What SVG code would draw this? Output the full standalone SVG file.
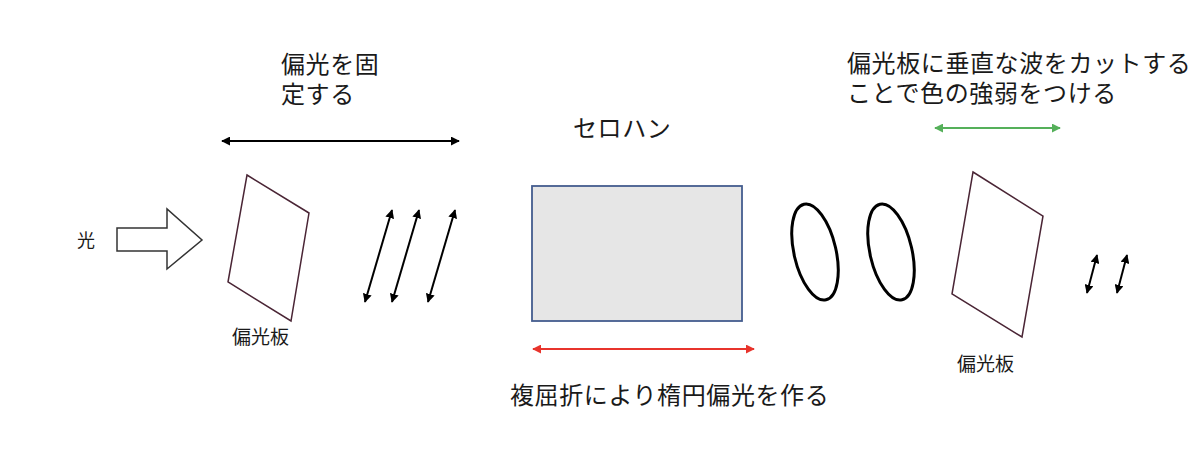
<svg xmlns="http://www.w3.org/2000/svg" width="1200" height="466" viewBox="0 0 1200 466">
<style>
text{font-family:"Noto Sans CJK JP","Noto Sans",sans-serif;fill:#1a1a1a}
.big{font-size:24px;letter-spacing:0.6px}
.lbl{font-size:19px}
.plate{fill:#fff;stroke:#4a2535;stroke-width:1.5}
.pol{stroke:#000;stroke-width:2;fill:none}
.ell{fill:none;stroke:#000;stroke-width:3}
</style>
<defs>
<marker id="hk" viewBox="0 0 10 10" refX="9" refY="5" markerWidth="9" markerHeight="9" markerUnits="userSpaceOnUse" orient="auto-start-reverse"><path d="M0,0L10,5L0,10z" fill="#000"/></marker>
<marker id="hr" viewBox="0 0 10 10" refX="9" refY="5" markerWidth="9" markerHeight="9" markerUnits="userSpaceOnUse" orient="auto-start-reverse"><path d="M0,0L10,5L0,10z" fill="#e8342c"/></marker>
<marker id="hg" viewBox="0 0 10 10" refX="9" refY="5" markerWidth="9" markerHeight="9" markerUnits="userSpaceOnUse" orient="auto-start-reverse"><path d="M0,0L10,5L0,10z" fill="#55b05a"/></marker>
</defs>
<rect width="1200" height="466" fill="#fff"/>
<g id="light">
<text x="77" y="247" style="font-size:18px">光</text>
<path d="M117,228H167V209L202,240L167,269V251H117Z" fill="#fff" stroke="#333" stroke-width="1.5"/>
</g>
<g id="polarizer1">
<path class="plate" d="M247,175L309,213L291,321L228,282Z"/>
<text class="lbl" x="232" y="344">偏光板</text>
</g>
<g id="note1">
<text class="big" x="281" y="73">偏光を固</text>
<text class="big" x="281" y="103">定する</text>
</g>
<g id="cellophane">
<text class="big" x="573" y="137">セロハン</text>
<rect x="532" y="186" width="210" height="135" fill="#e6e6e6" stroke="#445c8e" stroke-width="1.8"/>
</g>
<g id="note2">
<text class="big" x="510" y="404">複屈折により楕円偏光を作る</text>
</g>
<g id="ellipses">
<ellipse class="ell" cx="815" cy="252" rx="21" ry="49" transform="rotate(-13 815 252)"/>
<ellipse class="ell" cx="891" cy="252" rx="21" ry="49" transform="rotate(-13 891 252)"/>
</g>
<g id="polarizer2">
<path class="plate" d="M973,172L1043,216L1022,337L952,294Z"/>
<text class="lbl" x="957" y="371">偏光板</text>
</g>
<g id="note3">
<text class="big" x="847" y="72">偏光板に垂直な波をカットする</text>
<text class="big" x="847" y="102">ことで色の強弱をつける</text>
</g>
<g id="connectors">
<line x1="222" y1="141" x2="459" y2="141" stroke="#000" stroke-width="1.8" marker-start="url(#hk)" marker-end="url(#hk)"/>
<line class="pol" x1="392" y1="210" x2="365" y2="302" marker-start="url(#hk)" marker-end="url(#hk)"/>
<line class="pol" x1="419" y1="210" x2="392" y2="302" marker-start="url(#hk)" marker-end="url(#hk)"/>
<line class="pol" x1="455" y1="210" x2="428" y2="302" marker-start="url(#hk)" marker-end="url(#hk)"/>
<line x1="533" y1="349" x2="754" y2="349" stroke="#e8342c" stroke-width="1.8" marker-start="url(#hr)" marker-end="url(#hr)"/>
<line x1="935" y1="128" x2="1060" y2="128" stroke="#55b05a" stroke-width="1.8" marker-start="url(#hg)" marker-end="url(#hg)"/>
<line class="pol" x1="1097" y1="255" x2="1087" y2="293" marker-start="url(#hk)" marker-end="url(#hk)"/>
<line class="pol" x1="1127" y1="255" x2="1117" y2="293" marker-start="url(#hk)" marker-end="url(#hk)"/>
</g>
</svg>
